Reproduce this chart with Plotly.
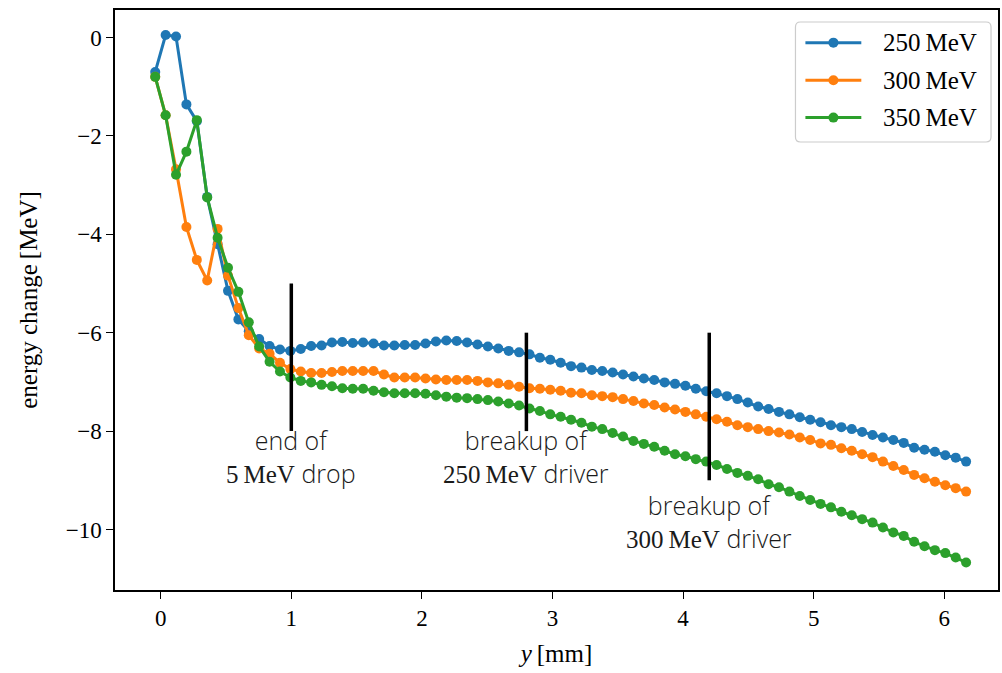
import numpy as np
import plotly.graph_objects as go

# sample positions along y [mm]
y_start = -0.042
y_step = 0.0796
n_points = 79
y_mm = [round(y_start + i * y_step, 4) for i in range(n_points)]

# energy change [MeV] for each driver energy
de_250 = [-0.70, 0.05, 0.02, -1.36, -1.70, -3.24, -4.20, -5.15, -5.73, -5.97,
          -6.13, -6.27, -6.34, -6.37, -6.33, -6.27, -6.26, -6.20, -6.19, -6.21,
          -6.20, -6.22, -6.26, -6.26, -6.25, -6.25, -6.22, -6.18, -6.16, -6.17,
          -6.20, -6.24, -6.28, -6.32, -6.37, -6.40, -6.44, -6.51, -6.55, -6.61,
          -6.68, -6.71, -6.76, -6.78, -6.81, -6.85, -6.89, -6.93, -6.96, -7.01,
          -7.04, -7.08, -7.14, -7.19, -7.23, -7.29, -7.35, -7.42, -7.50, -7.55,
          -7.61, -7.66, -7.72, -7.77, -7.82, -7.88, -7.92, -7.96, -8.02, -8.08,
          -8.13, -8.18, -8.24, -8.34, -8.38, -8.42, -8.49, -8.54, -8.62]

de_300 = [-0.80, -1.58, -2.68, -3.85, -4.52, -4.94, -3.89, -4.84, -5.50, -6.05,
          -6.32, -6.43, -6.61, -6.74, -6.79, -6.82, -6.82, -6.80, -6.78, -6.78,
          -6.78, -6.78, -6.85, -6.91, -6.91, -6.91, -6.93, -6.95, -6.96, -6.96,
          -6.96, -6.98, -7.01, -7.03, -7.06, -7.10, -7.13, -7.14, -7.16, -7.18,
          -7.22, -7.23, -7.27, -7.29, -7.31, -7.35, -7.39, -7.44, -7.47, -7.52,
          -7.56, -7.61, -7.66, -7.71, -7.76, -7.81, -7.88, -7.92, -7.96, -8.00,
          -8.03, -8.07, -8.13, -8.18, -8.25, -8.28, -8.35, -8.40, -8.47, -8.53,
          -8.62, -8.71, -8.79, -8.89, -8.96, -9.03, -9.10, -9.16, -9.23]

de_350 = [-0.80, -1.58, -2.79, -2.32, -1.68, -3.25, -4.07, -4.68, -5.17, -5.79,
          -6.28, -6.59, -6.79, -6.91, -6.98, -7.01, -7.06, -7.09, -7.13, -7.14,
          -7.14, -7.18, -7.21, -7.23, -7.23, -7.23, -7.24, -7.27, -7.30, -7.32,
          -7.33, -7.35, -7.37, -7.40, -7.44, -7.48, -7.54, -7.59, -7.66, -7.71,
          -7.77, -7.83, -7.91, -7.96, -8.04, -8.11, -8.20, -8.26, -8.32, -8.40,
          -8.47, -8.51, -8.57, -8.62, -8.69, -8.77, -8.85, -8.91, -8.98, -9.08,
          -9.14, -9.23, -9.32, -9.40, -9.48, -9.55, -9.64, -9.71, -9.79, -9.86,
          -9.96, -10.06, -10.13, -10.25, -10.34, -10.42, -10.48, -10.57, -10.67]

series_names = ["250 MeV", "300 MeV", "350 MeV"]
series_values = [de_250, de_300, de_350]
series_colors = ["#1f77b4", "#ff7f0e", "#2ca02c"]

# marker lines: position [mm], lower and upper end [MeV]
marker_pos = [1.0, 2.8, 4.2]
marker_low = [-8.0, -8.0, -9.0]
marker_high = [-5.0, -6.0, -6.0]

SERIF = "Liberation Serif"
SANS = "Open Sans"


def cm(s):
    return f"<span style=\"font-family:'{SERIF}';font-weight:400;font-size:25px\">{s}</span>"


marker_labels = [
    "end of<br>" + cm("5\u2009MeV") + " drop",
    "breakup of<br>" + cm("250\u2009MeV") + " driver",
    "breakup of<br>" + cm("300\u2009MeV") + " driver",
]
label_mid = [-8.52, -8.52, -9.83]

fig = go.Figure()

for name, vals, col in zip(series_names, series_values, series_colors):
    fig.add_trace(go.Scatter(
        x=y_mm, y=vals, mode="lines+markers", name=name,
        line=dict(color=col, width=3),
        marker=dict(color=col, size=10),
        showlegend=False,
    ))

for xp, lo, hi in zip(marker_pos, marker_low, marker_high):
    fig.add_shape(type="line", x0=xp, x1=xp, y0=lo, y1=hi,
                  xref="x", yref="y", line=dict(color="black", width=3.5))

for xp, txt, mid in zip(marker_pos, marker_labels, label_mid):
    fig.add_annotation(x=xp, y=mid, text=txt, showarrow=False,
                       xanchor="center", yanchor="middle", align="center",
                       font=dict(family=SANS, size=25, color="#1a1a1a", weight=300))

# legend box (plot-area fractions), rows, sample line and label positions
leg_x0, leg_x1, leg_y0, leg_y1 = (797 - 115) / 885, 0.9921, 0.7724, 0.9793
leg_rows = [0.9437, 0.8788, 0.8145]
leg_line = (0.7819, 0.8452)
leg_dot = 0.8136
leg_text = 0.8678
rx, ry = 5 / 885, 5 / 580
box_path = (f"M{leg_x0 + rx},{leg_y1} L{leg_x1 - rx},{leg_y1} Q{leg_x1},{leg_y1} {leg_x1},{leg_y1 - ry} "
            f"L{leg_x1},{leg_y0 + ry} Q{leg_x1},{leg_y0} {leg_x1 - rx},{leg_y0} "
            f"L{leg_x0 + rx},{leg_y0} Q{leg_x0},{leg_y0} {leg_x0},{leg_y0 + ry} "
            f"L{leg_x0},{leg_y1 - ry} Q{leg_x0},{leg_y1} {leg_x0 + rx},{leg_y1} Z")
fig.add_shape(type="path", path=box_path, xref="paper", yref="paper",
              line=dict(color="#cccccc", width=1.2), fillcolor="rgba(255,255,255,0.85)")
for name, col, ry_ in zip(series_names, series_colors, leg_rows):
    fig.add_shape(type="line", xref="paper", yref="paper",
                  x0=leg_line[0], x1=leg_line[1], y0=ry_, y1=ry_,
                  line=dict(color=col, width=3))
    fig.add_shape(type="circle", xref="paper", yref="paper",
                  xsizemode="pixel", ysizemode="pixel",
                  xanchor=leg_dot, yanchor=ry_, x0=-5, x1=5, y0=-5, y1=5,
                  line=dict(color=col, width=0), fillcolor=col)
    fig.add_annotation(x=leg_text, y=ry_, xref="paper", yref="paper",
                       text=name.replace(" ", "\u2009"), showarrow=False,
                       xanchor="left", yanchor="middle",
                       font=dict(family=SERIF, size=25, color="black"))

axis_common = dict(
    showline=True, linecolor="black", linewidth=1.5, mirror=True,
    ticks="outside", ticklen=7, tickwidth=1.3, tickcolor="black",
    showgrid=False, zeroline=False,
    tickfont=dict(family=SERIF, size=23, color="black"),
)

fig.update_layout(
    width=1002, height=673,
    margin=dict(l=115, r=2, t=10, b=83),
    plot_bgcolor="white", paper_bgcolor="white",
    xaxis=dict(range=[-0.350, 6.411], tickvals=[0, 1, 2, 3, 4, 5, 6],
               title=dict(text="<i>y</i>\u2009[mm]", font=dict(family=SERIF, size=25, color="black"),
                          standoff=14),
               **axis_common),
    yaxis=dict(range=[-11.23, 0.559], tickvals=[0, -2, -4, -6, -8, -10],
               title=dict(text="energy change\u2009[MeV]", font=dict(family=SERIF, size=25, color="black"),
                          standoff=21),
               **axis_common),
    showlegend=False,
)

fig.write_html("out.html")
